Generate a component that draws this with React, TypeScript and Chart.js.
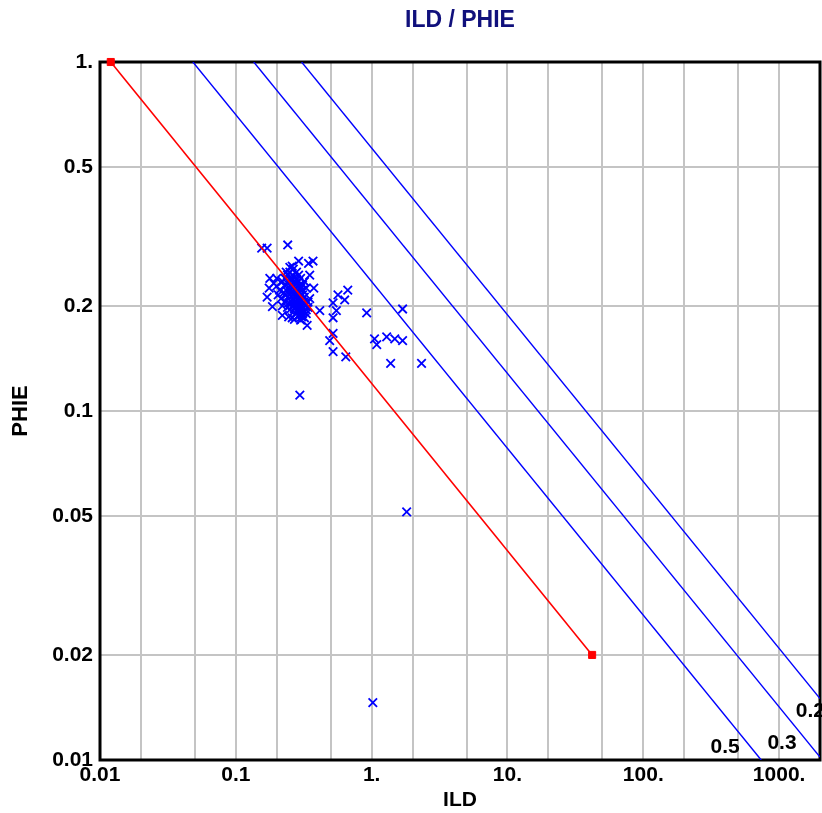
import React, { useEffect, useRef } from "react";
import { Chart, registerables } from "chart.js";

Chart.register(...registerables);

// ---- Data ----
const xTickValues = [0.01, 0.02, 0.05, 0.1, 0.2, 0.5, 1, 2, 5, 10, 20, 50, 100, 200, 500, 1000];
const xTickLabels: Record<string, string> = { "0.01": "0.01", "0.1": "0.1", "1": "1.", "10": "10.", "100": "100.", "1000": "1000." };
const yTickValues = [0.01, 0.02, 0.05, 0.1, 0.2, 0.5, 1];
const yTickLabels: Record<string, string> = { "0.01": "0.01", "0.02": "0.02", "0.05": "0.05", "0.1": "0.1", "0.2": "0.2", "0.5": "0.5", "1": "1." };

const ildValues = [
  0.155, 0.170, 0.241, 0.290, 0.343, 0.370, 0.178, 0.176, 0.170, 0.186,
  0.220, 0.245, 0.305, 0.335, 0.415, 0.350, 0.375, 0.520, 0.565, 0.633,
  0.667, 0.550, 0.520, 0.520, 0.491, 0.520, 0.645, 0.919, 1.05, 1.09,
  1.29, 1.48, 1.69, 1.69, 1.38, 2.33, 0.296, 1.81, 1.02,
  0.22, 0.23, 0.24, 0.25, 0.26, 0.24, 0.25, 0.26, 0.27, 0.28,
  0.23, 0.245, 0.255, 0.265, 0.275, 0.285, 0.295, 0.21, 0.225, 0.24,
  0.25, 0.26, 0.27, 0.28, 0.29, 0.30, 0.31, 0.215, 0.23, 0.245,
  0.255, 0.265, 0.275, 0.285, 0.295, 0.305, 0.32, 0.26, 0.27, 0.28,
  0.29, 0.30, 0.31, 0.325, 0.275, 0.285, 0.295, 0.31, 0.32, 0.33,
  0.25, 0.24, 0.20, 0.205, 0.22, 0.34, 0.35, 0.33, 0.32, 0.30,
  0.29, 0.235, 0.265, 0.28, 0.31, 0.20, 0.19, 0.26, 0.30, 0.27,
  0.235, 0.245, 0.255, 0.265, 0.275, 0.285, 0.295, 0.305, 0.315, 0.27,
  0.28, 0.29, 0.30, 0.31, 0.255, 0.265, 0.28, 0.29, 0.30, 0.32,
  0.33, 0.34, 0.26, 0.25, 0.29, 0.305, 0.27, 0.275, 0.285, 0.295,
];
const phieValues = [
  0.293, 0.293, 0.299, 0.269, 0.265, 0.269, 0.240, 0.225, 0.212, 0.199,
  0.188, 0.186, 0.186, 0.176, 0.194, 0.245, 0.225, 0.204, 0.215, 0.208,
  0.222, 0.194, 0.185, 0.167, 0.159, 0.148, 0.143, 0.191, 0.161, 0.155,
  0.163, 0.161, 0.159, 0.196, 0.137, 0.137, 0.111, 0.0514, 0.0146,
  0.235, 0.24, 0.245, 0.25, 0.245, 0.232, 0.238, 0.236, 0.242, 0.238,
  0.228, 0.226, 0.23, 0.228, 0.232, 0.226, 0.23, 0.222, 0.218, 0.22,
  0.215, 0.22, 0.218, 0.214, 0.22, 0.215, 0.222, 0.21, 0.206, 0.21,
  0.205, 0.21, 0.206, 0.208, 0.204, 0.208, 0.212, 0.2, 0.196, 0.2,
  0.196, 0.2, 0.196, 0.2, 0.19, 0.192, 0.188, 0.19, 0.192, 0.195,
  0.195, 0.198, 0.228, 0.215, 0.2, 0.205, 0.21, 0.225, 0.235, 0.24,
  0.245, 0.25, 0.255, 0.25, 0.23, 0.24, 0.232, 0.185, 0.182, 0.183,
  0.215, 0.204, 0.222, 0.2, 0.225, 0.215, 0.21, 0.2, 0.205, 0.235,
  0.205, 0.2, 0.225, 0.215, 0.24, 0.215, 0.22, 0.235, 0.19, 0.185,
  0.19, 0.198, 0.26, 0.258, 0.188, 0.195, 0.205, 0.212, 0.203, 0.197,
];

// Water line (Sw = 1), endpoints
const waterLineIld = [0.012, 42];
const waterLinePhie = [1, 0.02];

// Sw iso-lines
const swNames = ["0.5", "0.3", "0.2"];
const swLineIld = [[0.0483, 738], [0.1355, 2000], [0.305, 2000]];
const swLinePhie = [[1, 0.01], [1, 0.0102], [1, 0.015]];
const swLabelIld = [400, 1050, 1700];
const swLabelPhie = [0.0109, 0.0112, 0.0138];

const FONT = "'Liberation Sans', Arial, Helvetica, sans-serif";

export default function App() {
  const canvasRef = useRef<HTMLCanvasElement | null>(null);

  useEffect(() => {
    const canvas = canvasRef.current;
    if (!canvas) return;

    const framePlugin = {
      id: "frame",
      beforeDatasetsDraw(chart: any) {
        const { ctx, chartArea } = chart;
        const { left, top, right, bottom } = chartArea;
        ctx.save();
        ctx.strokeStyle = "#000000";
        ctx.lineWidth = 3;
        ctx.strokeRect(left, top, right - left, bottom - top);
        ctx.restore();
      },
      afterDatasetsDraw(chart: any) {
        const { ctx } = chart;
        const xs = chart.scales.x;
        const ys = chart.scales.y;
        ctx.save();
        ctx.fillStyle = "#000000";
        ctx.font = `bold 21px ${FONT}`;
        ctx.textAlign = "center";
        ctx.textBaseline = "middle";
        swNames.forEach((name, i) => {
          ctx.fillText(name, xs.getPixelForValue(swLabelIld[i]), ys.getPixelForValue(swLabelPhie[i]));
        });
        ctx.restore();
      },
    };

    const scatter = ildValues.map((x, i) => ({ x, y: phieValues[i] }));

    const datasets: any[] = [
      {
        label: "Sw = 1",
        data: waterLineIld.map((x, i) => ({ x, y: waterLinePhie[i] })),
        showLine: true,
        borderColor: "#ff0000",
        backgroundColor: "#ff0000",
        borderWidth: 1.6,
        pointStyle: "rect",
        pointRadius: 5,
        pointBorderWidth: 1,
        clip: false,
        order: 0,
      },
      {
        label: "ILD / PHIE",
        data: scatter,
        showLine: false,
        borderColor: "#0000ff",
        backgroundColor: "#0000ff",
        pointStyle: "crossRot",
        pointRadius: 6,
        pointBorderWidth: 1.8,
        order: 1,
      },
      ...swNames.map((name, k) => ({
        label: "Sw " + name,
        data: swLineIld[k].map((x, i) => ({ x, y: swLinePhie[k][i] })),
        showLine: true,
        borderColor: "#0000ff",
        backgroundColor: "#0000ff",
        borderWidth: 1.4,
        pointRadius: 0,
        order: 2,
      })),
    ];

    const chart = new Chart(canvas, {
      type: "scatter",
      data: { datasets },
      options: {
        animation: false,
        responsive: false,
        maintainAspectRatio: false,
        layout: { autoPadding: false, padding: { left: 0, right: 2, top: 0, bottom: 0 } },
        plugins: {
          legend: { display: false },
          tooltip: { enabled: false },
          title: {
            display: true,
            text: "ILD / PHIE",
            color: "#10107c",
            fullSize: false,
            font: { family: FONT, size: 23, weight: "bold" },
            padding: { top: 7.2, bottom: 27.2 },
          },
        },
        scales: {
          x: {
            type: "logarithmic",
            min: 0.01,
            max: 2000,
            afterBuildTicks: (scale: any) => {
              scale.ticks = xTickValues.map((v) => ({ value: v }));
            },
            afterFit: (scale: any) => {
              scale.height = 53;
              scale.paddingLeft = 0;
              scale.paddingRight = 0;
            },
            grid: { color: "#c4c4c4", lineWidth: 2, drawTicks: false },
            border: { display: false },
            ticks: {
              autoSkip: false,
              maxRotation: 0,
              padding: 3,
              color: "#000000",
              font: { family: FONT, size: 21, weight: "bold" },
              callback: (v: any) => {
                const key = String(Number(Number(v).toPrecision(6)));
                return xTickLabels[key] ?? "";
              },
            },
            title: {
              display: true,
              text: "ILD",
              color: "#000000",
              font: { family: FONT, size: 21, weight: "bold" },
              padding: { top: 0, bottom: 0.5 },
            },
          },
          y: {
            type: "logarithmic",
            min: 0.01,
            max: 1,
            afterBuildTicks: (scale: any) => {
              scale.ticks = yTickValues.map((v) => ({ value: v }));
            },
            afterFit: (scale: any) => {
              scale.width = 100;
              scale.paddingTop = 0;
              scale.paddingBottom = 0;
            },
            grid: { color: "#c4c4c4", lineWidth: 2, drawTicks: false },
            border: { display: false },
            ticks: {
              autoSkip: false,
              padding: 7,
              color: "#000000",
              font: { family: FONT, size: 21, weight: "bold" },
              callback: (v: any) => {
                const key = String(Number(Number(v).toPrecision(6)));
                return yTickLabels[key] ?? "";
              },
            },
            title: {
              display: true,
              text: "PHIE",
              color: "#000000",
              font: { family: FONT, size: 22, weight: "bold" },
              padding: { top: 8, bottom: 0 },
            },
          },
        },
      },
      plugins: [framePlugin],
    });

    return () => {
      chart.destroy();
    };
  }, []);

  return (
    <div style={{ position: "fixed", left: 0, top: 0, width: 822, height: 813, background: "#ffffff" }}>
      <canvas ref={canvasRef} width={822} height={813} style={{ display: "block", width: 822, height: 813 }} />
    </div>
  );
}
